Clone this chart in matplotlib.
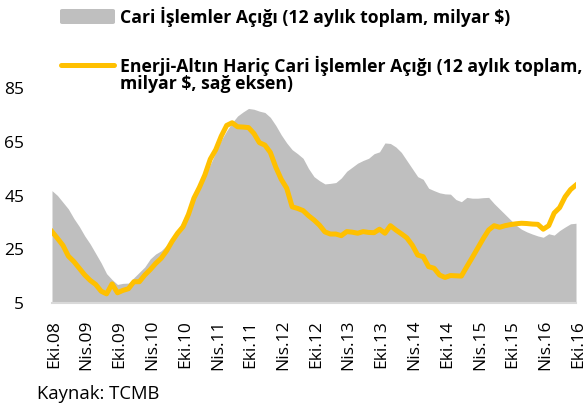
import matplotlib
matplotlib.use("Agg")
import matplotlib.pyplot as plt
from matplotlib.patches import FancyBboxPatch
from matplotlib.lines import Line2D
from matplotlib.transforms import ScaledTranslation
import numpy as np

# Monthly data, Eki.08 (Oct 2008) .. Eki.16 (Oct 2016)
cari_acik = [46.8, 45.0, 42.5, 40.0, 36.5, 33.5, 30.0, 27.0, 23.5, 20.0,
             16.0, 13.8, 12.0, 12.4, 12.5, 14.5, 16.5, 18.5, 21.5, 23.3,
             24.5, 26.5, 29.0, 32.0, 35.9, 40.0, 44.5, 47.5, 52.0, 56.5,
             61.0, 65.5, 69.0, 72.0, 74.5, 76.0, 77.3, 77.0, 76.3, 75.8,
             74.0, 71.0, 67.5, 64.5, 62.0, 60.5, 58.8, 55.0, 52.0, 50.5,
             49.3, 49.5, 49.8, 51.5, 54.0, 55.5, 57.0, 58.0, 58.8, 60.5,
             61.2, 64.5, 64.3, 63.0, 61.0, 58.0, 55.0, 52.0, 51.0, 47.7,
             46.8, 46.0, 45.6, 45.5, 43.5, 42.7, 44.3, 44.0, 44.0, 44.2,
             44.3, 42.0, 40.0, 38.0, 36.0, 34.0, 32.5, 31.5, 30.7, 30.0,
             29.5, 30.8, 30.3, 32.0, 33.3, 34.5, 34.7]

enerji_altin_haric = [31.6, 29.1, 26.5, 22.5, 20.5, 18.0, 15.5, 13.5, 12.0, 9.5,
                      8.5, 12.2, 8.9, 9.8, 10.4, 13.0, 13.0, 15.5, 17.5, 19.8,
                      21.7, 24.5, 28.0, 31.0, 33.4, 38.0, 44.0, 48.0, 52.6, 58.5,
                      62.0, 67.0, 71.0, 72.0, 70.5, 70.4, 70.2, 68.0, 64.6, 63.7,
                      61.0, 55.5, 51.0, 47.7, 40.8, 40.2, 39.4, 37.5, 35.9, 34.0,
                      31.5, 30.7, 30.7, 30.1, 31.6, 31.4, 31.0, 31.6, 31.3, 31.2,
                      32.5, 31.0, 33.8, 32.2, 30.8, 29.3, 26.6, 22.9, 22.3, 18.6,
                      18.0, 15.5, 14.6, 15.3, 15.2, 15.1, 18.6, 22.0, 25.5, 29.0,
                      32.2, 33.8, 33.2, 33.8, 34.2, 34.5, 34.7, 34.6, 34.4, 34.3,
                      32.5, 33.8, 38.5, 40.5, 44.5, 47.2, 48.9]

tick_labels = ["Eki.08", "Nis.09", "Eki.09", "Nis.10", "Eki.10", "Nis.11",
               "Eki.11", "Nis.12", "Eki.12", "Nis.13", "Eki.13", "Nis.14",
               "Eki.14", "Nis.15", "Eki.15", "Nis.16", "Eki.16"]
y_ticks = [5, 25, 45, 65, 85]

legend_labels = ["Cari İşlemler Açığı (12 aylık toplam, milyar $)",
                 "Enerji-Altın Hariç Cari İşlemler Açığı (12 aylık toplam,",
                 "milyar $, sağ eksen)"]
source = "Kaynak: TCMB"

GRAY = "#bfbfbf"
GOLD = "#ffc000"
FONT = "Open Sans"

W, H = 585, 407
fig = plt.figure(figsize=(W / 100, H / 100), dpi=100)
ax = fig.add_axes([52 / W, (H - 303.3) / H, (576 - 52) / W, (303.3 - 87.7) / H])

x = np.arange(len(cari_acik))
ax.fill_between(x, 0, cari_acik, color=GRAY, linewidth=0)
ax.plot(x, enerji_altin_haric, color=GOLD, linewidth=3.6, solid_joinstyle="round")

ax.set_xlim(0, len(cari_acik) - 1)
ax.set_ylim(5, 85)
ax.set_yticks(y_ticks)
ax.set_yticklabels([str(v) for v in y_ticks], fontsize=12.5, family=FONT)
ax.set_xticks(np.arange(0, len(cari_acik), 6))
ax.set_xticklabels(tick_labels, rotation=90, fontsize=12.5, family=FONT)
ax.tick_params(axis="both", length=0)
ax.tick_params(axis="y", pad=20)
ax.tick_params(axis="x", pad=12)
for lbl in ax.get_xticklabels():
    lbl.set_transform(lbl.get_transform() + ScaledTranslation(2 / 100, 0, fig.dpi_scale_trans))

for s in ["top", "right", "left"]:
    ax.spines[s].set_visible(False)
ax.spines["bottom"].set_color("#d9d9d9")
ax.spines["bottom"].set_linewidth(1.5)

# Legend (drawn manually to match layout)
fig.patches.append(FancyBboxPatch((60 / W, 1 - 24 / H), 55 / W, 15 / H,
                                  boxstyle="round,pad=0,rounding_size=0.004",
                                  transform=fig.transFigure, facecolor=GRAY,
                                  edgecolor="none"))
fig.lines.append(Line2D([61 / W, 114 / W], [1 - 65 / H, 1 - 65 / H],
                        transform=fig.transFigure, color=GOLD, linewidth=3.6,
                        solid_capstyle="round"))
fig.text(120 / W, 1 - 23 / H, legend_labels[0], fontsize=12.7, fontweight="bold",
         family=FONT, va="baseline", ha="left")
fig.text(120 / W, 1 - 71.5 / H, legend_labels[1], fontsize=12.7, fontweight="bold",
         family=FONT, va="baseline", ha="left")
fig.text(120 / W, 1 - 89.3 / H, legend_labels[2], fontsize=12.7, fontweight="bold",
         family=FONT, va="baseline", ha="left")

fig.text(37 / W, 1 - 399 / H, source, fontsize=13.3, family=FONT, va="baseline", ha="left")

fig.savefig("out.png", dpi=100)
